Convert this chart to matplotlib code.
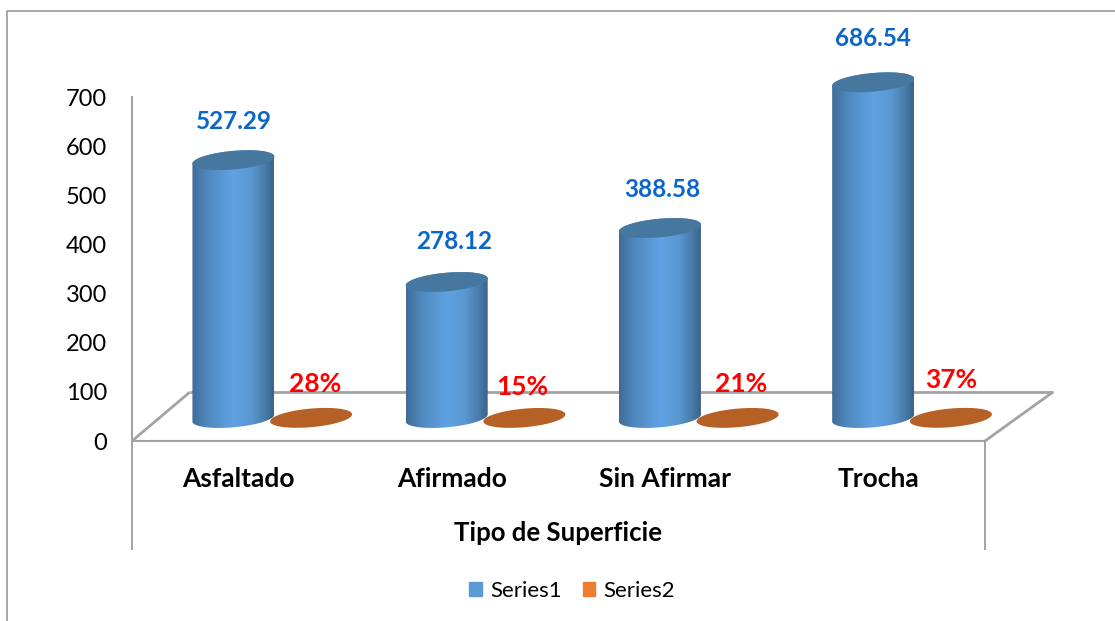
import numpy as np
import matplotlib
matplotlib.use("Agg")
import matplotlib.pyplot as plt
from matplotlib.colors import LinearSegmentedColormap
from matplotlib.lines import Line2D
from matplotlib.patches import Patch, Polygon

plt.rcParams['font.family'] = ['Lato', 'DejaVu Sans']

#data
categories = ["Asfaltado", "Afirmado", "Sin Afirmar", "Trocha"]
series1 = [527.29, 278.12, 388.58, 686.54]
series2 = [0.28, 0.15, 0.21, 0.37]
y_ticks = [0, 100, 200, 300, 400, 500, 600, 700]
group_title = "Tipo de Superficie"
legend_names = ["Series1", "Series2"]

W, H = 1115, 621
GREY = "#a3a3a3"

#axes box in pixels (front plane of the 3d floor)
left, right, top, bottom = 132, 985, 97, 441

fig = plt.figure(figsize=(W / 100, H / 100), dpi=100)
ax = fig.add_axes([left / W, 1 - bottom / H, (right - left) / W, (bottom - top) / H])
ax.set_xlim(-0.5, 3.5)
ax.set_ylim(0, 700)

sx = (right - left) / 4    # pixels per category
sy = (bottom - top) / 700  # pixels per value unit

def ellipse_xy(cx, cy, a=41, b=9.3, tilt=3.5, t=None):
    #slanted ellipse, sizes in pixels, center in data units
    if t is None:
        t = np.linspace(0, 2 * np.pi, 120)
    x = cx + a * np.cos(t) / sx
    y = cy + (b * np.sin(t) + tilt * np.cos(t)) / sy
    return np.column_stack([x, y])

body_cmap = LinearSegmentedColormap.from_list("body", [
    (0.0, "#3f6c96"), (0.18, "#4f88bd"), (0.5, "#5fa2e2"),
    (0.72, "#5a98d2"), (0.9, "#477aa8"), (1.0, "#3a6388")])

base_y = 23 / sy       # cylinders stand in the middle of the floor
bar_scale = 0.995
bar_dx = -5.2 / sx
disc_dx = 72.5 / sx
half = 41 / sx

#floor lines behind the cylinders
def px_line(x0, y0, x1, y1, lw=2.0):
    ax.plot([(x0 - left) / sx - 0.5, (x1 - left) / sx - 0.5],
            [(bottom - y0) / sy, (bottom - y1) / sy],
            color=GREY, lw=lw, clip_on=False, zorder=1, solid_capstyle="butt")

px_line(190, 392, 1053, 392)
px_line(132, 441, 190, 392)
px_line(985, 441, 1053, 392)
px_line(132, 441, 132, 550, 1.4)
px_line(985, 441, 985, 550, 1.4)

label_dx = [0, 7, 2, 0]
label_dy = [39, 41, 38, 44]
pct_dx = [4, -2, 3, 0]
pct_dy = [34, 31, 34, 38]

for i, (v, share) in enumerate(zip(series1, series2)):
    cx = i + bar_dx
    top_y = base_y + v * bar_scale

    #cylinder body, gradient clipped to its outline
    low = ellipse_xy(cx, base_y, t=np.linspace(np.pi, 2 * np.pi, 60))
    up = ellipse_xy(cx, top_y, t=np.linspace(0, np.pi, 60))
    outline = Polygon(np.vstack([low, up]), closed=True, transform=ax.transData,
                      facecolor="none", edgecolor="none")
    ax.add_patch(outline)
    outline.set_clip_on(False)
    im = ax.imshow(np.linspace(0, 1, 256).reshape(1, -1), cmap=body_cmap, aspect="auto",
                   extent=[cx - half, cx + half, base_y - 12 / sy, top_y + 12 / sy],
                   zorder=3, interpolation="bilinear")
    im.set_clip_box(fig.bbox)
    im.set_clip_path(outline)

    cap = Polygon(ellipse_xy(cx, top_y), closed=True, facecolor="#46779f",
                  edgecolor="none", clip_on=False, zorder=4)
    ax.add_patch(cap)
    ax.text(cx + label_dx[i] / sx, top_y + label_dy[i] / sy, f"{v:.2f}", color="#0a66c8",
            fontsize=17.5, fontweight="bold", ha="center", va="center", clip_on=False, zorder=6)

    #series 2 is only a flat disc because its values are fractions
    disc = Polygon(ellipse_xy(i + disc_dx, base_y + share), closed=True, facecolor="#b56024",
                   edgecolor="none", clip_on=False, zorder=5)
    ax.add_patch(disc)
    ax.text(i + disc_dx + pct_dx[i] / sx, base_y + (pct_dy[i]) / sy, f"{share:.0%}", color="#ff0000",
            fontsize=19, fontweight="bold", ha="center", va="center", clip_on=False, zorder=6)

ax.set_xticks(range(len(categories)))
ax.set_xticklabels(categories, fontsize=19, fontweight="bold", color="black")
ax.set_yticks(y_ticks)
ax.tick_params(axis="x", length=0, pad=19)
ax.tick_params(axis="y", length=0, pad=18, labelsize=17, labelcolor="black")
for s in ["top", "right"]:
    ax.spines[s].set_visible(False)
for s in ["left", "bottom"]:
    ax.spines[s].set_color(GREY)
    ax.spines[s].set_linewidth(1.5)
ax.patch.set_alpha(0)

fig.text(558 / W, 1 - 533 / H, group_title, fontsize=18.5, fontweight="bold",
         ha="center", va="center")

handles = [Patch(color="#5b9bd5", label=legend_names[0]), Patch(color="#ed7d31", label=legend_names[1])]
fig.legend(handles=handles, loc="center", bbox_to_anchor=(572 / W, 1 - 591 / H), ncol=2, frameon=False,
           fontsize=16, handlelength=0.58, handleheight=0.58, handletextpad=0.35, columnspacing=0.95)

#outer chart border, cropped on the right and bottom
fig.add_artist(Line2D([7 / W, 7 / W, 1], [0, 1 - 11 / H, 1 - 11 / H], color="#999999", lw=1.2))

fig.savefig("out.png", dpi=100)
